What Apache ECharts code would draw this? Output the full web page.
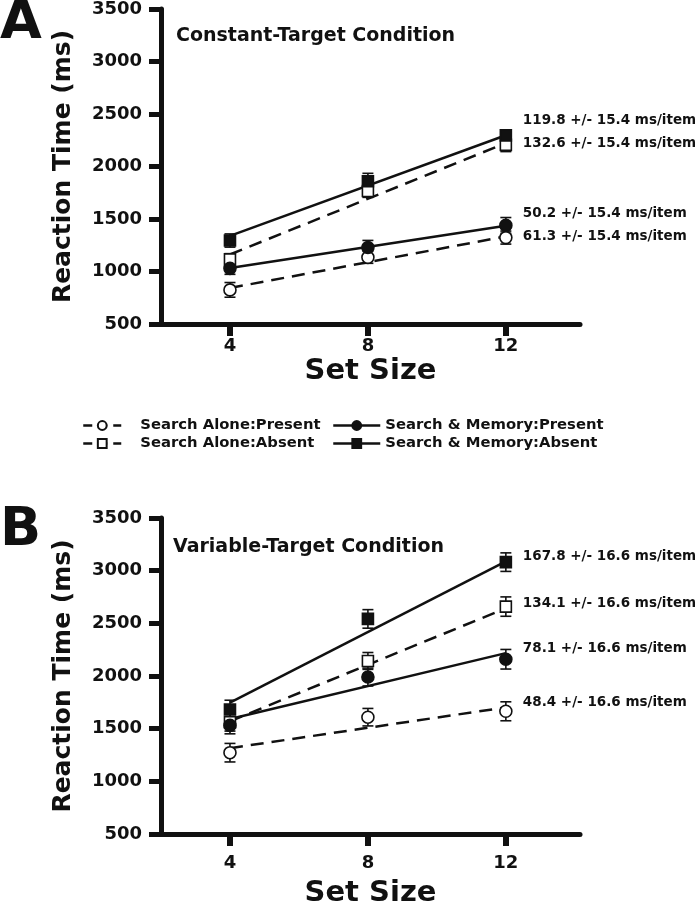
<!DOCTYPE html>
<html><head><meta charset="utf-8">
<script src="https://cdn.jsdelivr.net/npm/echarts@6/dist/echarts.min.js"></script>
<style>html,body{margin:0;padding:0;background:#fff}#c{width:699px;height:907px}</style>
</head><body><div id="c"></div>
<script>
// ---------- data ----------
const setSizes = [4, 8, 12];
const fitX = [4, 12];
const conditionNames = ['Search Alone:Present', 'Search Alone:Absent', 'Search & Memory:Present', 'Search & Memory:Absent'];
const yTicks = [500, 1000, 1500, 2000, 2500, 3000, 3500];
const xTicks = [4, 8, 12];

// Panel A: Constant-Target Condition (means, SE, fitted line at 4 and 12)
const meanA_SAP = [825, 1135, 1323];
const meanA_SAA = [1115, 1766, 2206];
const meanA_SMP = [1030, 1228, 1439];
const meanA_SMA = [1295, 1860, 2296];
const errA_SAP = [70, 57, 62];
const errA_SAA = [55, 60, 64];
const errA_SMP = [57, 68, 75];
const errA_SMA = [63, 75, 50];
const fitA_SAP = [843, 1334];
const fitA_SAA = [1162, 2223];
const fitA_SMP = [1033, 1435];
const fitA_SMA = [1340, 2298];
const slopeA = ['61.3 +/- 15.4 ms/item', '132.6 +/- 15.4 ms/item', '50.2 +/- 15.4 ms/item', '119.8 +/- 15.4 ms/item'];

// Panel B: Variable-Target Condition
const meanB_SAP = [1272, 1609, 1665];
const meanB_SAA = [1562, 2143, 2659];
const meanB_SMP = [1531, 1990, 2159];
const meanB_SMA = [1682, 2542, 3081];
const errB_SAP = [88, 83, 90];
const errB_SAA = [85, 80, 92];
const errB_SMP = [80, 85, 93];
const errB_SMA = [88, 88, 88];
const fitB_SAP = [1315, 1702];
const fitB_SAA = [1570, 2643];
const fitB_SMP = [1592, 2217];
const fitB_SMA = [1747, 3089];
const slopeB = ['48.4 +/- 16.6 ms/item', '134.1 +/- 16.6 ms/item', '78.1 +/- 16.6 ms/item', '167.8 +/- 16.6 ms/item'];

// ---------- styles ----------
const INK = '#111';
const FONT = 'DejaVu Sans';
const condStyle = [
  {symbol: 'circle', open: true, dash: [13, 8], legendDash: [9, 6]},
  {symbol: 'rect', open: true, dash: [13, 8], legendDash: [9, 6]},
  {symbol: 'circle', open: false, dash: 'solid', legendDash: 'solid'},
  {symbol: 'rect', open: false, dash: 'solid', legendDash: 'solid'}
];
const labelDyA = [0, 0, -12, -15];
const labelDyB = [-5, -5, -5, -5];

const panels = [
  {means: [meanA_SAP, meanA_SAA, meanA_SMP, meanA_SMA], errs: [errA_SAP, errA_SAA, errA_SMP, errA_SMA],
   fits: [fitA_SAP, fitA_SAA, fitA_SMP, fitA_SMA], slopes: slopeA, dy: labelDyA},
  {means: [meanB_SAP, meanB_SAA, meanB_SMP, meanB_SMA], errs: [errB_SAP, errB_SAA, errB_SMP, errB_SMA],
   fits: [fitB_SAP, fitB_SAA, fitB_SMP, fitB_SMA], slopes: slopeB, dy: labelDyB}
];

function renderErr(params, api) {
  const x = api.value(0), m = api.value(1), e = api.value(2);
  const t = api.coord([x, m + e]);
  const b = api.coord([x, m - e]);
  const hw = 5.5;
  const style = {stroke: INK, lineWidth: 1.6, fill: null};
  return {type: 'group', children: [
    {type: 'line', shape: {x1: t[0], y1: t[1], x2: b[0], y2: b[1]}, style},
    {type: 'line', shape: {x1: t[0] - hw, y1: t[1], x2: t[0] + hw, y2: t[1]}, style},
    {type: 'line', shape: {x1: b[0] - hw, y1: b[1], x2: b[0] + hw, y2: b[1]}, style}
  ]};
}

const series = [];
panels.forEach((p, gi) => {
  conditionNames.forEach((name, ci) => {
    const st = condStyle[ci];
    const itemStyle = {color: st.open ? '#fff' : INK, borderColor: INK, borderWidth: 1.6, opacity: 1};
    series.push({
      type: 'line', name: name, xAxisIndex: gi, yAxisIndex: gi,
      data: fitX.map((x, k) => [x, p.fits[ci][k]]),
      symbol: st.symbol, symbolSize: 9, showSymbol: false,
      itemStyle: itemStyle,
      lineStyle: {color: INK, width: 2.5, type: st.dash},
      endLabel: {show: true, formatter: p.slopes[ci], distance: 17, offset: [0, p.dy[ci]],
        color: INK, fontFamily: FONT, fontWeight: 'bold', fontSize: 13.5},
      z: 2, silent: true
    });
    series.push({
      type: 'custom', name: name + ' SE', xAxisIndex: gi, yAxisIndex: gi,
      data: setSizes.map((x, k) => [x, p.means[ci][k], p.errs[ci][k]]),
      renderItem: renderErr, z: 3, silent: true
    });
    series.push({
      type: 'scatter', name: name + ' mean', xAxisIndex: gi, yAxisIndex: gi,
      data: setSizes.map((x, k) => [x, p.means[ci][k]]),
      symbol: st.symbol, symbolSize: st.symbol === 'rect' ? 11 : 12,
      itemStyle: itemStyle, z: 4, silent: true
    });
  });
});

const tickText = {color: INK, fontFamily: FONT, fontWeight: 'bold', fontSize: 18};
const nameText = {color: INK, fontFamily: FONT, fontWeight: 'bold', fontSize: 25};
const axisLineStyle = {show: true, lineStyle: {color: INK, width: 5}};

function xAxis(gi, margin, gap) {
  return {gridIndex: gi, type: 'value', min: 2, max: 14.15,
    axisLine: axisLineStyle,
    axisTick: {show: true, length: 12, customValues: xTicks, lineStyle: {color: INK, width: 6}},
    axisLabel: {customValues: xTicks, margin: margin, formatter: v => String(v), ...tickText},
    splitLine: {show: false},
    name: 'Set Size', nameLocation: 'middle', nameGap: gap,
    nameTextStyle: {...nameText, fontSize: 29}};
}
function yAxis(gi) {
  return {gridIndex: gi, type: 'value', min: yTicks[0], max: yTicks[yTicks.length - 1], interval: 500,
    axisLine: axisLineStyle,
    axisTick: {show: true, length: 12, lineStyle: {color: INK, width: 5}},
    axisLabel: {margin: 19, formatter: v => String(v), ...tickText},
    splitLine: {show: false},
    name: 'Reaction Time (ms)', nameLocation: 'middle', nameRotate: 90, nameGap: 85,
    nameTextStyle: nameText};
}

function legendItem(ci) {
  return {name: conditionNames[ci], lineStyle: {type: condStyle[ci].legendDash, width: 2.5, color: INK}};
}
const legendText = {color: INK, fontFamily: FONT, fontWeight: 'bold', fontSize: 14.8};
const option = {
  animation: false,
  backgroundColor: '#fff',
  title: [
    {text: 'A', left: 0, top: -3, padding: 0, textStyle: {color: INK, fontFamily: FONT, fontWeight: 'bold', fontSize: 54}},
    {text: 'Constant-Target Condition', left: 176, top: 27, padding: 0, textStyle: {color: INK, fontFamily: FONT, fontWeight: 'bold', fontSize: 19}},
    {text: 'B', left: 0, top: 504, padding: 0, textStyle: {color: INK, fontFamily: FONT, fontWeight: 'bold', fontSize: 54}},
    {text: 'Variable-Target Condition', left: 173, top: 538, padding: 0, textStyle: {color: INK, fontFamily: FONT, fontWeight: 'bold', fontSize: 19}}
  ],
  legend: [
    {orient: 'vertical', left: 82, top: 418, padding: 0, itemWidth: 38, itemHeight: 11, itemGap: 3, selectedMode: false,
     data: [legendItem(0), legendItem(1)], textStyle: {...legendText, padding: [0, 0, 0, 14]}},
    {orient: 'vertical', left: 332, top: 418, padding: 0, itemWidth: 47, itemHeight: 11, itemGap: 3, selectedMode: false,
     data: [legendItem(2), legendItem(3)], textStyle: {...legendText, padding: [0, 0, 0, 0]}}
  ],
  grid: [
    {left: 161, top: 9, width: 419, height: 315, outerBoundsMode: 'none', containLabel: false},
    {left: 161, top: 518, width: 419, height: 316, outerBoundsMode: 'none', containLabel: false}
  ],
  xAxis: [xAxis(0, 13, 33), xAxis(1, 20, 45)],
  yAxis: [yAxis(0), yAxis(1)],
  series: series
};
const chart = echarts.init(document.getElementById('c'), null, {renderer: 'canvas'});
chart.setOption(option);
</script>
</body></html>
